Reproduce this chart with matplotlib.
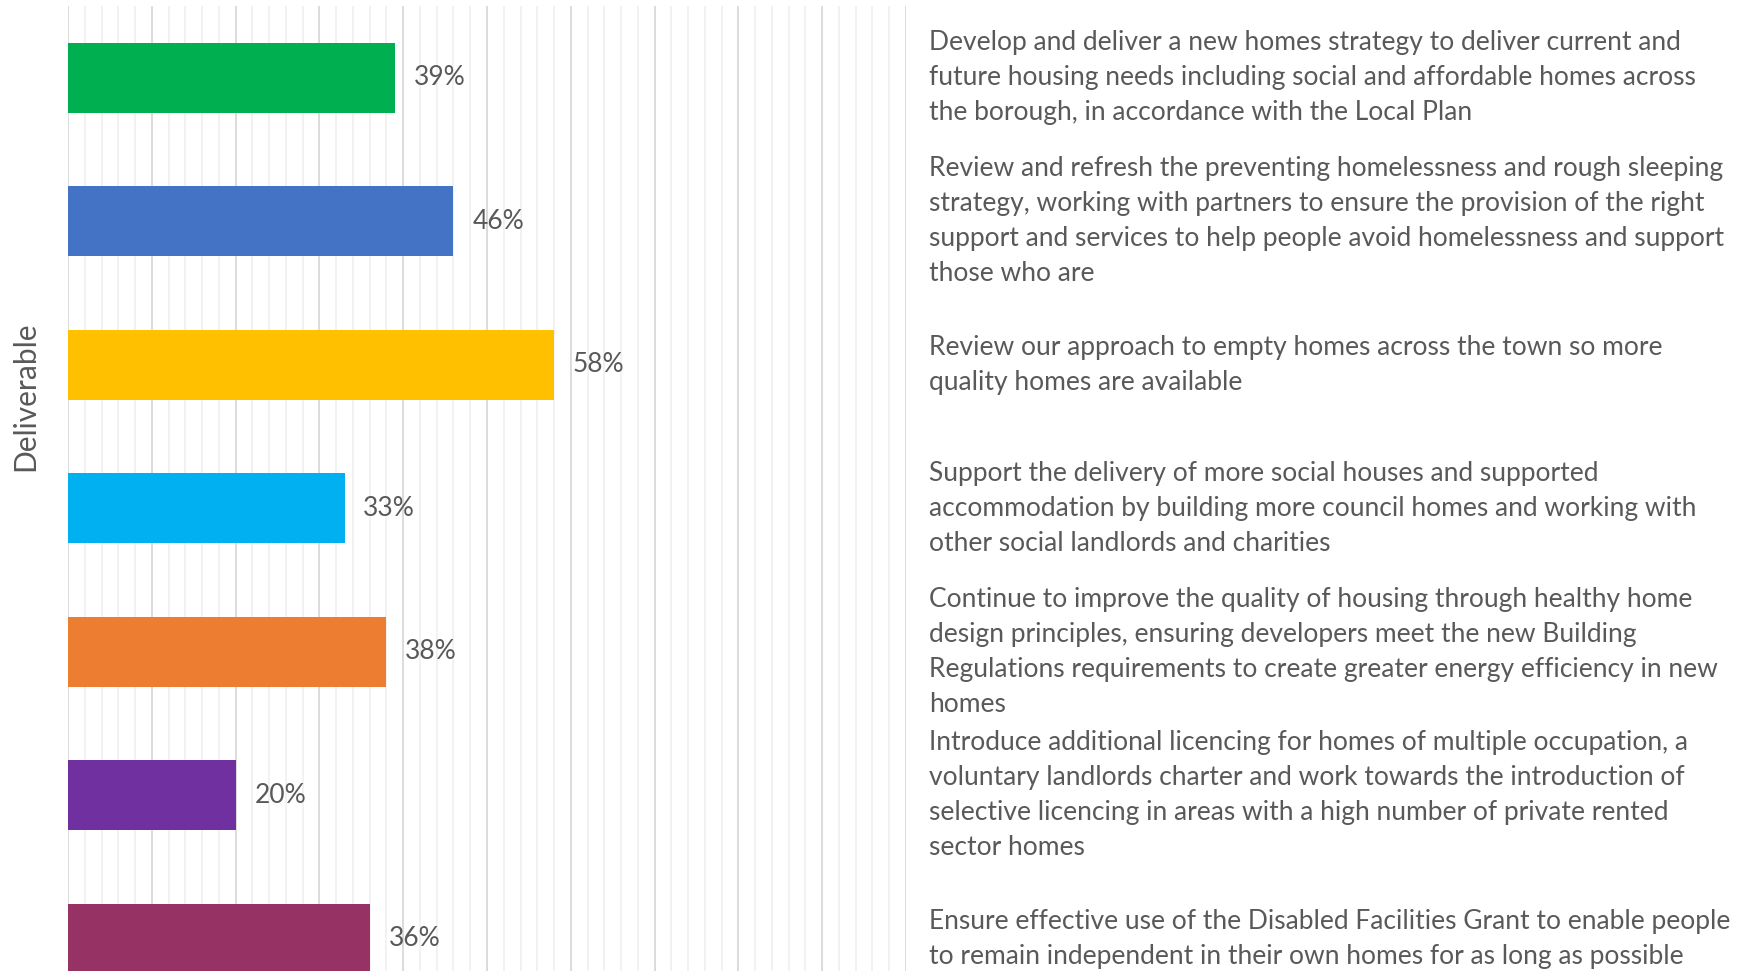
import matplotlib.pyplot as plt
import matplotlib.transforms as mtransforms

# deliverables, in chart order (top to bottom)
deliverables = [
    "Develop and deliver a new homes strategy to deliver current and\n"
    "future housing needs including social and affordable homes across\n"
    "the borough, in accordance with the Local Plan",
    "Review and refresh the preventing homelessness and rough sleeping\n"
    "strategy, working with partners to ensure the provision of the right\n"
    "support and services to help people avoid homelessness and support\n"
    "those who are",
    "Review our approach to empty homes across the town so more\n"
    "quality homes are available",
    "Support the delivery of more social houses and supported\n"
    "accommodation by building more council homes and working with\n"
    "other social landlords and charities",
    "Continue to improve the quality of housing through healthy home\n"
    "design principles, ensuring developers meet the new Building\n"
    "Regulations requirements to create greater energy efficiency in new\n"
    "homes",
    "Introduce additional licencing for homes of multiple occupation, a\n"
    "voluntary landlords charter and work towards the introduction of\n"
    "selective licencing in areas with a high number of private rented\n"
    "sector homes",
    "Ensure effective use of the Disabled Facilities Grant to enable people\n"
    "to remain independent in their own homes for as long as possible",
]
values = [39, 46, 58, 33, 38, 20, 36]
colors = ["#00B050", "#4472C4", "#FFC000", "#00B0F0", "#ED7D31", "#7030A0", "#963264"]

plt.rcParams["font.family"] = ["Lato", "DejaVu Sans"]
TXT = "#595959"
FS = 19

W, H = 1751, 971
fig = plt.figure(figsize=(W / 100, H / 100), dpi=100)

# plot area runs past the bottom edge (the source image is cropped)
left, right, top = 68, 906, 6
height = 143.5 * len(values)
ax = fig.add_axes([left / W, 1 - (top + height) / H, (right - left) / W, height / H])

pos = list(range(len(values)))
ax.barh(pos, values, height=0.49, color=colors, zorder=3)
ax.set_xlim(0, 100)
ax.set_ylim(len(values) - 0.5, -0.5)

ax.set_xticks(range(0, 101, 10))
ax.set_xticks(range(0, 101, 2), minor=True)
ax.grid(axis="x", which="major", color="#d9d9d9", linewidth=1.3, zorder=0)
ax.grid(axis="x", which="minor", color="#efefef", linewidth=1.1, zorder=0)
ax.tick_params(which="both", length=0, labelbottom=False, labelleft=False)
ax.set_yticks([])
for s in ax.spines.values():
    s.set_visible(False)

# value labels
for p, v in zip(pos, values):
    ax.annotate(f"{v}%", (v, p), xytext=(13.5, 0), textcoords="offset points",
                va="center", ha="left", fontsize=FS, color=TXT)

# descriptions to the right, centred on each bar
blend = mtransforms.blended_transform_factory(fig.transFigure, ax.transData)
pitch = 35 * 72 / 100  # line pitch in points
for p, text in zip(pos, deliverables):
    lines = text.split("\n")
    n = len(lines)
    for j, line in enumerate(lines):
        tr = mtransforms.offset_copy(blend, fig=fig, x=0,
                                     y=-(j - (n - 1) / 2) * pitch, units="points")
        fig.text(929 / W, p, line, transform=tr, va="center", ha="left",
                 fontsize=FS, color=TXT)

fig.text(25 / W, 1 - 396 / H, "Deliverable", rotation=90, va="center", ha="center",
         fontsize=21.5, color=TXT)

fig.savefig("out.png", dpi=100)
